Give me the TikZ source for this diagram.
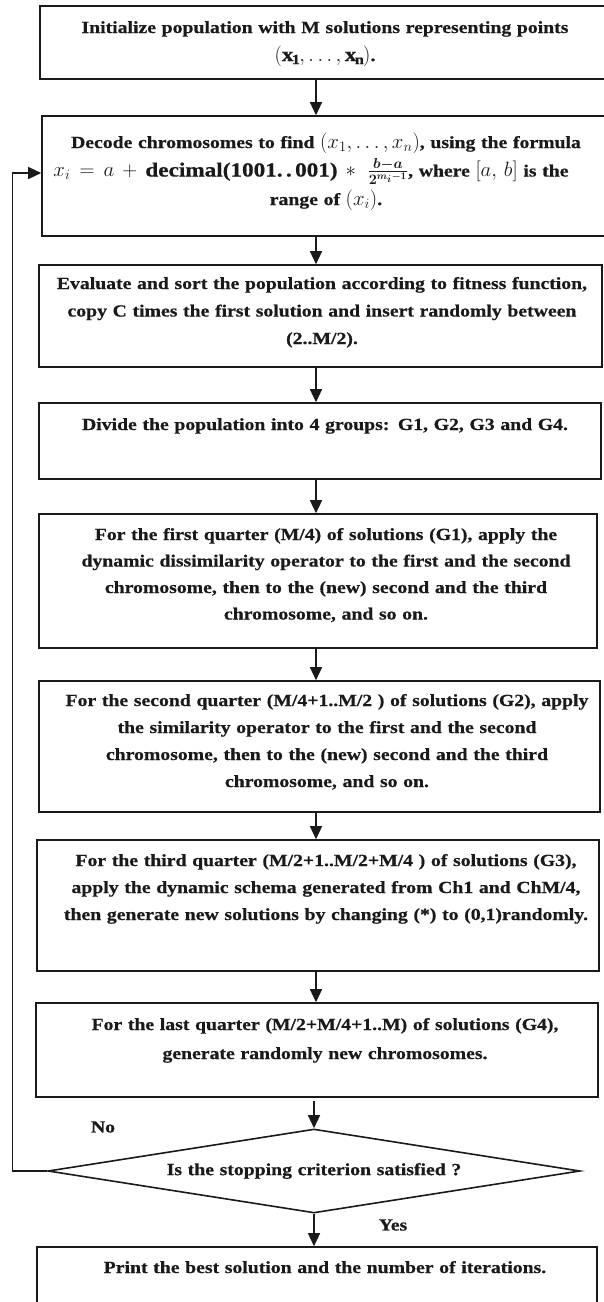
\documentclass[tikz,border=0pt]{standalone}
\usepackage{amsmath}
\usepackage{fontspec}
\setmainfont{Liberation Serif}[FakeStretch=1.16, BoldFeatures={FakeBold=0.6}]
\usetikzlibrary{arrows.meta,shapes.geometric}
\definecolor{ink}{HTML}{1A1A1A}
\tikzset{
  box/.style={draw=ink, line width=1.6pt, inner sep=0pt, fill=white},
  txt/.style={anchor=base, text width=580pt, align=center, inner sep=0pt,
              font=\bfseries\fontsize{17}{26.5}\selectfont, text=ink},
  arr/.style={draw=ink, line width=1.4pt, -{Triangle[length=13pt,width=12pt]}},
  lbl/.style={font=\bfseries\fontsize{17}{20}\selectfont, text=ink, inner sep=0pt},
  dec/.style={draw=ink, line width=1.6pt, shape=diamond, aspect=6.4, inner sep=0pt,
              minimum width=532pt, minimum height=84pt}
}
\newcommand\bigmath[1]{{\fontsize{20}{20}\selectfont\thickmuskip=8mu\medmuskip=7mu$#1$}}
\begin{document}
\begin{tikzpicture}[x=1pt,y=-1pt]
\useasboundingbox (0,0) rectangle (603,1302);
\fill[white] (0,0) rectangle (603,1302);
\coordinate (ax) at (316,0);
% boxes
\node[box, minimum width=566pt, minimum height=73pt]  (b1) at (323,42.5) {};
\node[box, minimum width=564pt, minimum height=120pt] (b2) at (324,176) {};
\node[box, minimum width=563pt, minimum height=102pt] (b3) at (320.5,316) {};
\node[box, minimum width=562pt, minimum height=76pt]  (b4) at (320,441) {};
\node[box, minimum width=558pt, minimum height=134pt] (b5) at (318,581) {};
\node[box, minimum width=561pt, minimum height=131pt] (b6) at (319.5,746.5) {};
\node[box, minimum width=562pt, minimum height=131pt] (b7) at (318,905.5) {};
\node[box, minimum width=562pt, minimum height=94pt]  (b8) at (317,1050) {};
\node[box, minimum width=560pt, minimum height=80pt]  (b9) at (317,1287) {};
\node[dec] (d) at (314,1171) {};
% texts
\node[txt, font=\bfseries\fontsize{17}{28}\selectfont] (t1) at (325,33) {Initialize population with M solutions representing points\\ \bigmath{(\mathbf{x}_{\mathbf{1}},\ldots,\mathbf{x}_{\mathbf{n}})}.};
\node[txt, font=\bfseries\fontsize{17}{28.5}\selectfont] (t2) at (326,148) {Decode chromosomes to find \bigmath{(x_1,\ldots,x_n)}, using the formula\\ \hspace*{-30pt}\bigmath{x_i=a+\text{decimal(1001.\,.\,001)}\mathbin{\ast}\,\frac{\boldsymbol{b-a}}{\boldsymbol{2^{m_i-1}}}}, where \bigmath{[a,\,b]} is the\\ range of \bigmath{(x_i)}.};
\node[txt, font=\bfseries\fontsize{17}{27.5}\selectfont] (t3) at (322,289) {Evaluate and sort the population according to fitness function,\\ copy C times the first solution and insert randomly between\\ (2..M/2).};
\node[txt] (t4) at (325,430) {Divide the population into 4 groups: G1, G2, G3 and G4.};
\node[txt] (t5) at (326,540) {For the first quarter (M/4) of solutions (G1), apply the\\ dynamic dissimilarity operator to the first and the second\\ chromosome, then to the (new) second and the third\\ chromosome, and so on.};
\node[txt, font=\bfseries\fontsize{17}{27}\selectfont] (t6) at (327,706) {For the second quarter (M/4+1..M/2 ) of solutions (G2), apply\\ the similarity operator to the first and the second\\ chromosome, then to the (new) second and the third\\ chromosome, and so on.};
\node[txt, font=\bfseries\fontsize{17}{27}\selectfont] (t7) at (326,866) {For the third quarter (M/2+1..M/2+M/4 ) of solutions (G3),\\ apply the dynamic schema generated from Ch1 and ChM/4,\\ then generate new solutions by changing (*) to (0,1)randomly.};
\node[txt, font=\bfseries\fontsize{17}{29}\selectfont] (t8) at (325,1030) {For the last quarter (M/2+M/4+1..M) of solutions (G4),\\ generate randomly new chromosomes.};
\node[txt] (t9) at (325,1273) {Print the best solution and the number of iterations.};
\node[txt, anchor=center] (td) at (d.center) {Is the stopping criterion satisfied ?};
\node[lbl] (no) at (103,1127) {No};
\node[lbl] (yes) at (393,1225) {Yes};
% connectors
\draw[arr] (b1.south -| ax) -- (b2.north -| ax);
\draw[arr] (b2.south -| ax) -- (b3.north -| ax);
\draw[arr] (b3.south -| ax) -- (b4.north -| ax);
\draw[arr] (b4.south -| ax) -- (b5.north -| ax);
\draw[arr] (b5.south -| ax) -- (b6.north -| ax);
\draw[arr] (b6.south -| ax) -- (b7.north -| ax);
\draw[arr] (b7.south -| ax) -- (b8.north -| ax);
\draw[arr] ([yshift=-3pt]b8.south -| d.north) -- (d.north);
\draw[arr] (d.south) -- (b9.north -| d.south);
\draw[arr] (d.west) -- ++(-35,0) |- ([yshift=3pt]b2.west);
\end{tikzpicture}
\end{document}
